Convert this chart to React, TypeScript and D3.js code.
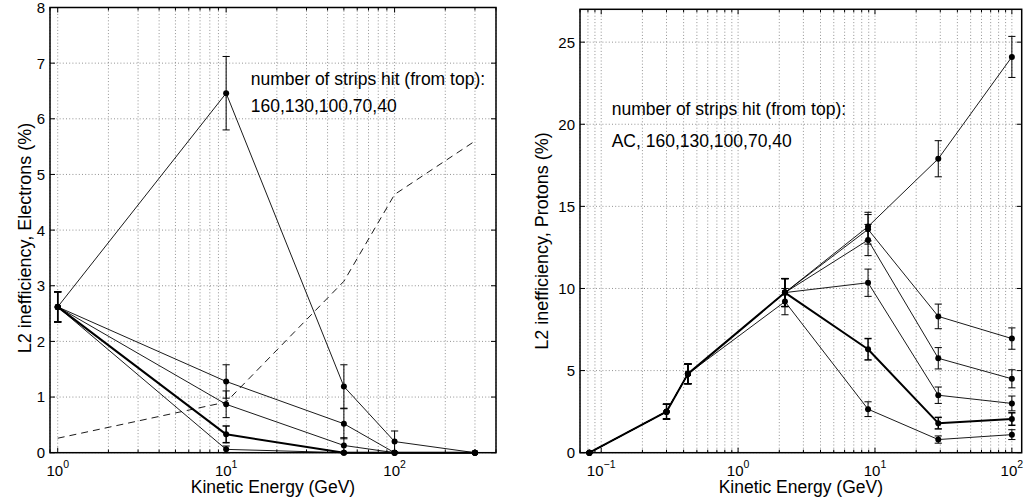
import React from "react";
import * as d3 from "d3";

// ---------- Electrons (left panel) ----------
const energyE = [1, 10, 50, 100, 300];
const elec160 = [2.62, 6.46, 1.19, 0.2, 0];
const elec160Err = [0.27, 0.66, 0.39, 0.19, 0];
const elec130 = [2.62, 1.28, 0.52, 0, 0];
const elec130Err = [0.27, 0.3, 0.27, 0, 0];
const elec100 = [2.62, 0.87, 0.13, 0, 0];
const elec100Err = [0.27, 0.24, 0.14, 0, 0];
const elec70 = [2.62, 0.33, 0, 0, 0];
const elec70Err = [0.27, 0.15, 0, 0, 0];
const elec40 = [2.62, 0.06, 0, 0, 0];
const elec40Err = [0.27, 0.06, 0, 0, 0];
const elecDashed = [0.26, 0.91, 3.08, 4.64, 5.6];
const elecYTicks = [0, 1, 2, 3, 4, 5, 6, 7, 8];
const elecXTicks = [1, 10, 100];
const elecXLabels = ["0", "1", "2"];

// ---------- Protons (right panel) ----------
const energyP = [0.082, 0.3, 0.43, 2.2, 8.9, 29, 100];
const protAC = [0, 2.5, 4.8, 9.75, 13.77, 17.9, 24.1];
const protACErr = [0, 0.45, 0.6, 0.85, 0.87, 1.1, 1.25];
const prot160 = [0, 2.5, 4.8, 9.75, 13.6, 8.3, 6.95];
const prot160Err = [0, 0.45, 0.6, 0.85, 0.9, 0.75, 0.65];
const prot130 = [0, 2.5, 4.8, 9.75, 12.95, 5.75, 4.5];
const prot130Err = [0, 0.45, 0.6, 0.85, 0.95, 0.65, 0.55];
const prot100 = [0, 2.5, 4.8, 9.75, 10.35, 3.5, 3.0];
const prot100Err = [0, 0.45, 0.6, 0.85, 0.83, 0.5, 0.45];
const prot70 = [0, 2.5, 4.8, 9.75, 6.3, 1.8, 2.05];
const prot70Err = [0, 0.45, 0.6, 0.85, 0.65, 0.35, 0.38];
const prot40 = [0, 2.5, 4.8, 9.2, 2.65, 0.8, 1.1];
const prot40Err = [0, 0.45, 0.6, 0.8, 0.45, 0.22, 0.3];
const protYTicks = [0, 5, 10, 15, 20, 25];
const protXTicks = [0.1, 1, 10, 100];
const protXLabels = ["\u22121", "0", "1", "2"];

const FONT = "'Liberation Sans', Arial, Helvetica, sans-serif";

type Series = { y: number[]; err?: number[]; width: number; dashed?: boolean; markers?: boolean };

function minorTicks(lo: number, hi: number): number[] {
  const out: number[] = [];
  const d0 = Math.floor(Math.log10(lo));
  const d1 = Math.ceil(Math.log10(hi));
  for (let d = d0; d <= d1; d++) {
    for (let m = 1; m <= 9; m++) {
      const v = m * Math.pow(10, d);
      if (v >= lo * 0.999 && v <= hi * 1.001) out.push(v);
    }
  }
  return out;
}

function Panel(props: {
  x0: number; x1: number; y0: number; y1: number;
  xDomain: [number, number]; yDomain: [number, number];
  xs: number[]; series: Series[];
  yTicks: number[]; xTicks: number[]; xLabels: string[];
  yLabel: string; yLabelX: number; yLabelY: number;
  note1: string; note2: string; noteX: number; noteY1: number; noteY2: number;
}) {
  const { x0, x1, y0, y1 } = props;
  const xs = d3.scaleLog().domain(props.xDomain).range([x0, x1]);
  const ys = d3.scaleLinear().domain(props.yDomain).range([y1, y0]);
  const minors = minorTicks(props.xDomain[0], props.xDomain[1]);
  const majorSet = new Set(props.xTicks.map((t) => Math.round(Math.log10(t))));
  const isMajor = (v: number) => Math.abs(Math.log10(v) - Math.round(Math.log10(v))) < 1e-9 && majorSet.has(Math.round(Math.log10(v)));
  const line = d3.line<[number, number]>().x((d) => xs(d[0])).y((d) => ys(d[1]));
  const gridStyle = { stroke: "#777", strokeWidth: 0.8, strokeDasharray: "1 2.2" };
  const cap = 3.6;
  return (
    <g>
      {/* grid */}
      {minors.map((v, i) => (
        <line key={"gv" + i} x1={xs(v)} x2={xs(v)} y1={y0} y2={y1} {...gridStyle} />
      ))}
      {props.yTicks.map((v, i) => (
        <line key={"gh" + i} x1={x0} x2={x1} y1={ys(v)} y2={ys(v)} {...gridStyle} />
      ))}
      {/* ticks */}
      {minors.map((v, i) => {
        const len = isMajor(v) ? 5 : 3;
        return (
          <g key={"tx" + i}>
            <line x1={xs(v)} x2={xs(v)} y1={y1} y2={y1 - len} stroke="#000" strokeWidth={1} />
            <line x1={xs(v)} x2={xs(v)} y1={y0} y2={y0 + len} stroke="#000" strokeWidth={1} />
          </g>
        );
      })}
      {props.yTicks.map((v, i) => (
        <g key={"ty" + i}>
          <line x1={x0} x2={x0 + 5} y1={ys(v)} y2={ys(v)} stroke="#000" strokeWidth={1} />
          <line x1={x1} x2={x1 - 5} y1={ys(v)} y2={ys(v)} stroke="#000" strokeWidth={1} />
        </g>
      ))}
      {/* series */}
      {props.series.map((s, si) => {
        const pts: [number, number][] = props.xs.map((x, i) => [x, s.y[i]]);
        return (
          <g key={"s" + si}>
            <path d={line(pts) || ""} fill="none" stroke="#000" strokeWidth={s.width}
              strokeDasharray={s.dashed ? "7 5" : undefined} strokeLinejoin="round" />
            {s.err && pts.map((p, i) => {
              const e = s.err![i];
              if (!e) return null;
              const cx = xs(p[0]);
              const ew = Math.max(1, s.width * 0.75);
              return (
                <g key={"e" + i} stroke="#000" strokeWidth={ew}>
                  <line x1={cx} x2={cx} y1={ys(p[1] - e)} y2={ys(p[1] + e)} />
                  <line x1={cx - cap} x2={cx + cap} y1={ys(p[1] + e)} y2={ys(p[1] + e)} />
                  <line x1={cx - cap} x2={cx + cap} y1={ys(p[1] - e)} y2={ys(p[1] - e)} />
                </g>
              );
            })}
            {s.markers !== false && pts.map((p, i) => (
              <circle key={"m" + i} cx={xs(p[0])} cy={ys(p[1])} r={3} fill="#000" />
            ))}
          </g>
        );
      })}
      {/* frame */}
      <rect x={x0} y={y0} width={x1 - x0} height={y1 - y0} fill="none" stroke="#000" strokeWidth={1.5} />
      {/* tick labels */}
      {props.yTicks.map((v, i) => (
        <text key={"yl" + i} x={x0 - 5} y={ys(v)} dy="0.36em" textAnchor="end" fontSize={15} fontFamily={FONT}>{v}</text>
      ))}
      {props.xTicks.map((v, i) => (
        <text key={"xl" + i} x={xs(v)} y={476} textAnchor="middle" fontSize={15} fontFamily={FONT}>
          10<tspan dy={-8} fontSize={10.5}>{props.xLabels[i]}</tspan>
        </text>
      ))}
      {/* axis labels */}
      <text x={(x0 + x1) / 2} y={493} textAnchor="middle" fontSize={17.5} fontFamily={FONT}>Kinetic Energy (GeV)</text>
      <text transform={`translate(${props.yLabelX},${props.yLabelY}) rotate(-90)`} textAnchor="middle" fontSize={18} fontFamily={FONT}>{props.yLabel}</text>
      {/* annotation */}
      <text x={props.noteX} y={props.noteY1} fontSize={17.5} fontFamily={FONT}>{props.note1}</text>
      <text x={props.noteX} y={props.noteY2} fontSize={17.5} fontFamily={FONT}>{props.note2}</text>
    </g>
  );
}

export default function App() {
  const elecSeries: Series[] = [
    { y: elec160, err: elec160Err, width: 0.9 },
    { y: elec130, err: elec130Err, width: 0.9 },
    { y: elec100, err: elec100Err, width: 0.9 },
    { y: elec70, err: elec70Err, width: 2 },
    { y: elec40, err: elec40Err, width: 0.9 },
    { y: elecDashed, width: 0.9, dashed: true, markers: false },
  ];
  const protSeries: Series[] = [
    { y: protAC, err: protACErr, width: 0.9 },
    { y: prot160, err: prot160Err, width: 0.9 },
    { y: prot130, err: prot130Err, width: 0.9 },
    { y: prot100, err: prot100Err, width: 0.9 },
    { y: prot70, err: prot70Err, width: 2 },
    { y: prot40, err: prot40Err, width: 0.9 },
  ];
  return (
    <svg width={1028} height={504} style={{ position: "absolute", left: 0, top: 0, background: "#fff" }}>
      <rect x={0} y={0} width={1028} height={504} fill="#fff" />
      <Panel x0={50} x1={496} y0={7.5} y1={452.7} xDomain={[0.9, 400]} yDomain={[0, 8]}
        xs={energyE} series={elecSeries} yTicks={elecYTicks} xTicks={elecXTicks} xLabels={elecXLabels}
        yLabel="L2 inefficiency, Electrons (%)" yLabelX={31} yLabelY={238}
        note1="number of strips hit (from top):" note2="160,130,100,70,40" noteX={250.7} noteY1={85} noteY2={112.3} />
      <Panel x0={580} x1={1021.7} y0={9.3} y1={452.7} xDomain={[0.07, 118]} yDomain={[0, 27]}
        xs={energyP} series={protSeries} yTicks={protYTicks} xTicks={protXTicks} xLabels={protXLabels}
        yLabel="L2 inefficiency, Protons (%)" yLabelX={548} yLabelY={241}
        note1="number of strips hit (from top):" note2="AC, 160,130,100,70,40" noteX={611.7} noteY1={115} noteY2={146.7} />
    </svg>
  );
}
